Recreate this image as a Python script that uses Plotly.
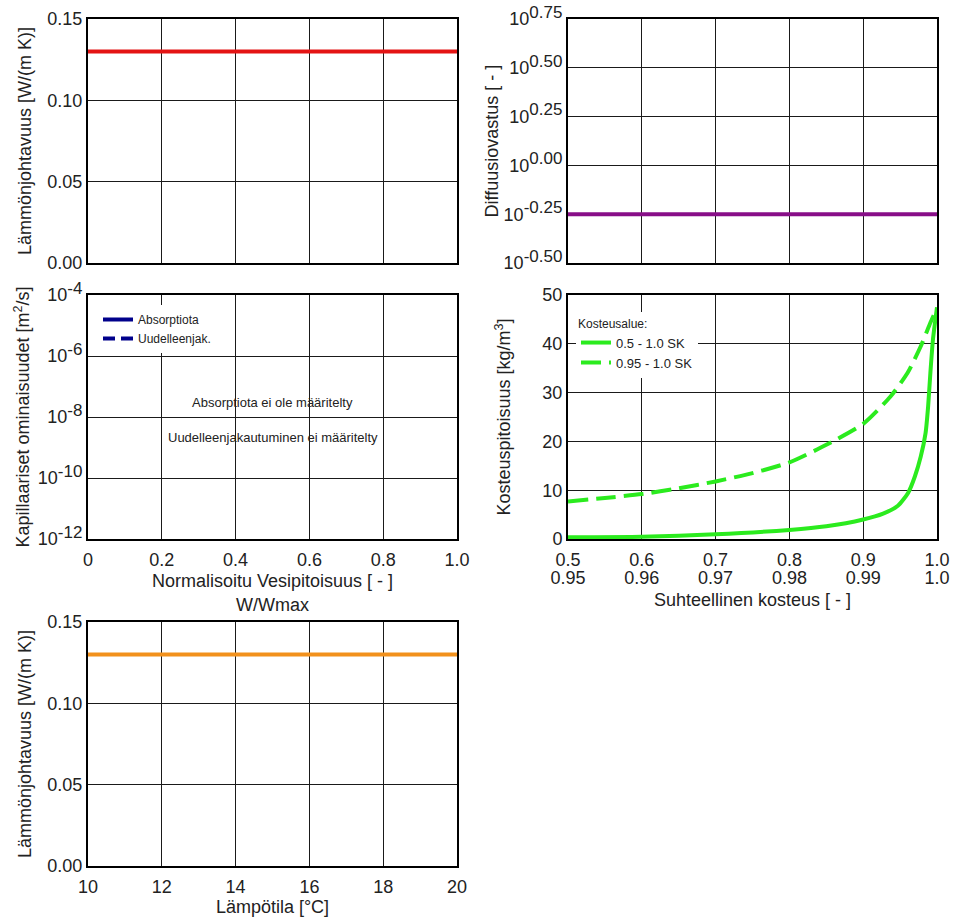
import plotly.graph_objects as go

# ---- data -------------------------------------------------------------
# thermal conductivity vs. normalised moisture (constant)
tc_moist_x = [0.0, 1.0]
tc_moist_y = [0.13, 0.13]

# diffusion resistance (constant)
mu_x = [0.0, 1.0]
mu_y = [0.562, 0.562]

# capillary transport: not defined for this material
absorption_x = [None]
absorption_y = [None]
redist_x = [None]
redist_y = [None]

# moisture storage, RH range 0.5 - 1.0
rh_full = [0.50, 0.60, 0.70, 0.80, 0.85, 0.90, 0.927, 0.947,
           0.961, 0.970, 0.978, 0.9845, 0.988, 0.991, 0.9946, 1.0]
w_full = [0.35, 0.47, 0.97, 1.85, 2.6, 4.0, 5.2, 6.8,
          9.5, 12.8, 16.9, 21.7, 27.2, 34.0, 41.0, 47.5]

# moisture storage, RH range 0.95 - 1.0
rh_high = [0.950, 0.955, 0.960, 0.965, 0.970, 0.975, 0.980, 0.985, 0.990,
           0.9937, 0.996, 0.9978, 0.9991, 1.0]
w_high = [7.7, 8.4, 9.2, 10.4, 11.8, 13.5, 15.7, 19.3, 23.6,
          29.2, 34.0, 39.5, 44.3, 47.4]

# thermal conductivity vs. temperature (constant)
temp_c = [10, 20]
tc_temp = [0.13, 0.13]

# tick labels
mu_exp = [-0.5, -0.25, 0.0, 0.25, 0.5, 0.75]
cap_exp = [-12, -10, -8, -6, -4]
rh_full_ticks = [0.5, 0.6, 0.7, 0.8, 0.9, 1.0]
rh_full_text = ["0.5", "0.6", "0.7", "0.8", "0.9", "1.0"]
rh_high_ticks = [0.95, 0.96, 0.97, 0.98, 0.99, 1.0]
rh_high_text = ["0.95", "0.96", "0.97", "0.98", "0.99", "1.0"]

# ---- styling ----------------------------------------------------------
FONT = "Liberation Sans, Arial, sans-serif"
NARROW = "Liberation Sans Narrow, Arial Narrow, Liberation Sans, sans-serif"
W, H = 956, 918

RED = "#E41414"
PURPLE = "#880E88"
NAVY = "#00008B"
GREEN = "#2BEB1E"
ORANGE = "#F2911C"


def px_x(a, b):
    return [a / W, b / W]


def px_y(top, bottom):
    return [1 - bottom / H, 1 - top / H]


def power_label(exp_text):
    return ("10<sup><span style='font-size:17px'>%s</span></sup>" % exp_text)


XL = px_x(88, 457)
XR = px_x(568, 937)
Y1 = px_y(19, 263)
Y2 = px_y(295, 539)
Y3 = px_y(622, 866)

axis_common = dict(
    showline=True, mirror=True, linecolor="black", linewidth=2,
    showgrid=True, gridcolor="#1a1a1a", gridwidth=1, automargin=False,
    zeroline=False, ticks="", tickfont=dict(family=FONT, size=18, color="#222"),
    title_font=dict(family=FONT, size=18, color="#222"),
)
xaxis_common = dict(axis_common, ticklabelstandoff=3)

fig = go.Figure()

fig.add_trace(go.Scatter(x=tc_moist_x, y=tc_moist_y, mode="lines",
                         line=dict(color=RED, width=4), showlegend=False,
                         xaxis="x", yaxis="y"))
fig.add_trace(go.Scatter(x=mu_x, y=mu_y, mode="lines",
                         line=dict(color=PURPLE, width=4), showlegend=False,
                         xaxis="x2", yaxis="y2"))
fig.add_trace(go.Scatter(x=absorption_x, y=absorption_y, mode="lines",
                         name="Absorptiota", line=dict(color=NAVY, width=4),
                         xaxis="x3", yaxis="y3", legend="legend"))
fig.add_trace(go.Scatter(x=redist_x, y=redist_y, mode="lines",
                         name="Uudelleenjak.",
                         line=dict(color=NAVY, width=4, dash="12px,6px"),
                         xaxis="x3", yaxis="y3", legend="legend"))
fig.add_trace(go.Scatter(x=rh_full, y=w_full, mode="lines",
                         name="0.5 - 1.0 SK",
                         line=dict(color=GREEN, width=4, shape="spline",
                                   smoothing=0.6),
                         xaxis="x4", yaxis="y4", legend="legend2"))
fig.add_trace(go.Scatter(x=rh_high, y=w_high, mode="lines",
                         name="0.95 - 1.0 SK",
                         line=dict(color=GREEN, width=4, dash="20px,8px",
                                   shape="spline", smoothing=0.6),
                         xaxis="x5", yaxis="y4", legend="legend2"))
fig.add_trace(go.Scatter(x=temp_c, y=tc_temp, mode="lines",
                         line=dict(color=ORANGE, width=4), showlegend=False,
                         xaxis="x6", yaxis="y6"))

fig.update_layout(
    width=W, height=H, margin=dict(l=0, r=0, t=0, b=0),
    paper_bgcolor="white", plot_bgcolor="white",
    font=dict(family=FONT, size=18, color="#222"),
    # top-left: conductivity vs moisture
    xaxis=dict(xaxis_common, domain=XL, anchor="y", range=[0, 1], dtick=0.2,
               showticklabels=False),
    yaxis=dict(axis_common, domain=Y1, anchor="x", range=[0, 0.15],
               tickvals=[0, 0.05, 0.10, 0.15], tickformat=".2f",
               title=dict(text="Lämmönjohtavuus [W/(m K)]", standoff=11)),
    # top-right: diffusion resistance
    xaxis2=dict(xaxis_common, domain=XR, anchor="y2", range=[0, 1], dtick=0.2,
                showticklabels=False),
    yaxis2=dict(axis_common, domain=Y1, anchor="x2", type="log",
                range=[-0.5, 0.75],
                tickvals=[10 ** e for e in mu_exp],
                ticktext=[power_label("%.2f" % e) for e in mu_exp],
                title=dict(text="Diffuusiovastus [ - ]", standoff=0)),
    # middle-left: capillary properties
    xaxis3=dict(xaxis_common, domain=XL, anchor="y3", range=[0, 1],
                tickvals=[0, 0.2, 0.4, 0.6, 0.8, 1.0],
                ticktext=["0", "0.2", "0.4", "0.6", "0.8", "1.0"],
                title=dict(text="Normalisoitu Vesipitoisuus [ - ]<br>W/Wmax",
                           standoff=6)),
    yaxis3=dict(axis_common, domain=Y2, anchor="x3", type="log",
                range=[-12, -4],
                tickvals=[10.0 ** e for e in cap_exp],
                ticktext=[power_label("%d" % e) for e in cap_exp],
                title=dict(text="Kapillaariset ominaisuudet [m<sup>2</sup>/s]",
                           standoff=3)),
    # middle-right: moisture storage (two RH scales)
    xaxis4=dict(xaxis_common, domain=XR, anchor="y4", range=[0.5, 1.0],
                tickvals=rh_full_ticks, ticktext=rh_full_text),
    xaxis5=dict(xaxis_common, domain=XR, overlaying="x4", anchor="free",
                position=1 - 562 / H, range=[0.95, 1.0],
                showline=False, mirror=False, showgrid=False,
                tickvals=rh_high_ticks, ticktext=rh_high_text,
                title=dict(text="Suhteellinen kosteus [ - ]", standoff=6)),
    yaxis4=dict(axis_common, domain=Y2, anchor="x4", range=[0, 50], dtick=10,
                title=dict(text="Kosteuspitoisuus [kg/m<sup>3</sup>]",
                           standoff=27)),
    # bottom-left: conductivity vs temperature
    xaxis6=dict(xaxis_common, domain=XL, anchor="y6", range=[10, 20], dtick=2,
                title=dict(text="Lämpötila [°C]", standoff=0)),
    yaxis6=dict(axis_common, domain=Y3, anchor="x6", range=[0, 0.15],
                tickvals=[0, 0.05, 0.10, 0.15], tickformat=".2f",
                title=dict(text="Lämmönjohtavuus [W/(m K)]", standoff=11)),
    legend=dict(x=98 / W, y=1 - 305 / H, xanchor="left", yanchor="top",
                bgcolor="white", borderwidth=0,
                font=dict(family=NARROW, size=12, color="#222"),
                tracegroupgap=0, itemwidth=30),
    legend2=dict(x=576 / W, y=1 - 312 / H, xanchor="left", yanchor="top",
                 bgcolor="white", borderwidth=0,
                 title=dict(text="Kosteusalue:",
                            font=dict(family=NARROW, size=12, color="#222")),
                 font=dict(family=NARROW, size=13, color="#222"),
                 tracegroupgap=0, itemwidth=30),
    annotations=[
        dict(text="Absorptiota ei ole määritelty", xref="x3 domain",
             yref="y3 domain", x=0.5, y=(539 - 402) / 244, showarrow=False,
             font=dict(family=FONT, size=13, color="#222")),
        dict(text="Uudelleenjakautuminen ei määritelty", xref="x3 domain",
             yref="y3 domain", x=0.5, y=(539 - 437) / 244, showarrow=False,
             font=dict(family=FONT, size=13, color="#222")),
    ],
)

fig.write_html("out.html")
